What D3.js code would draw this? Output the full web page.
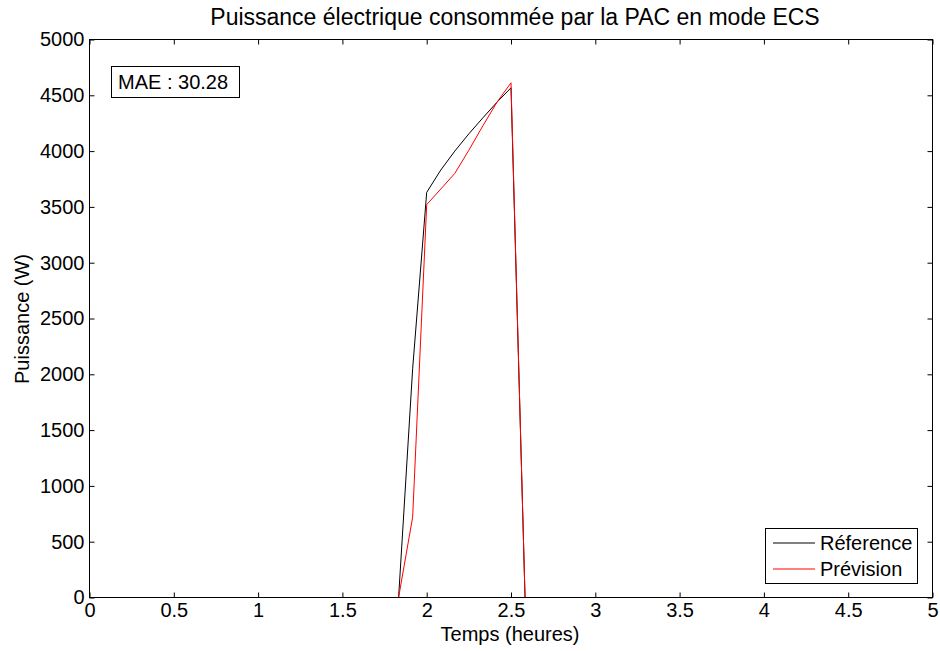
<!DOCTYPE html>
<html>
<head>
<meta charset="utf-8">
<script src="https://cdn.jsdelivr.net/npm/d3@7"></script>
<style>
body{margin:0;background:#fff;}
text{font-family:"Liberation Sans",Arial,sans-serif;fill:#000;}
</style>
</head>
<body>
<svg id="chart" width="940" height="651"></svg>
<script>
const timeHours = [0, 1.8333, 1.9167, 2.0, 2.0833, 2.1667, 2.25, 2.3333, 2.4167, 2.5, 2.5833, 5];
const reference = [0, 0, 2050, 3630, 3830, 4000, 4155, 4298, 4438, 4567, 0, 0];
const prevision = [0, 0, 720, 3520, 3660, 3800, 4008, 4227, 4438, 4612, 0, 0];
const xTicks = [0, 0.5, 1, 1.5, 2, 2.5, 3, 3.5, 4, 4.5, 5];
const yTicks = [0, 500, 1000, 1500, 2000, 2500, 3000, 3500, 4000, 4500, 5000];
const seriesNames = ["Réference", "Prévision"];
const seriesColors = ["#000000", "#ff0000"];
const maeText = "MAE : 30.28";

const svg = d3.select("#chart");
const L = 89.5, R = 932.5, T = 39.5, B = 597.5;
const x = d3.scaleLinear().domain([0, 5]).range([L, R]);
const y = d3.scaleLinear().domain([0, 5000]).range([B, T]);

svg.append("rect").attr("width", 940).attr("height", 651).attr("fill", "#fff");

const fs = 20;
const gx = svg.append("g").attr("transform", `translate(0,${B})`)
  .call(d3.axisBottom(x).tickValues(xTicks).tickFormat(d3.format("")).tickSizeInner(-5).tickSizeOuter(0).tickPadding(2));
const gxt = svg.append("g").attr("transform", `translate(0,${T})`)
  .call(d3.axisTop(x).tickValues(xTicks).tickFormat("").tickSizeInner(-5).tickSizeOuter(0));
const gy = svg.append("g").attr("transform", `translate(${L},0)`)
  .call(d3.axisLeft(y).tickValues(yTicks).tickFormat(d3.format("")).tickSizeInner(-5).tickSizeOuter(0).tickPadding(5));
const gyr = svg.append("g").attr("transform", `translate(${R},0)`)
  .call(d3.axisRight(y).tickValues(yTicks).tickFormat("").tickSizeInner(-5).tickSizeOuter(0));
[gx, gxt, gy, gyr].forEach(g => {
  g.select(".domain").remove();
  g.selectAll("line").attr("stroke", "#000");
  g.selectAll("text").style("font-size", fs + "px").style("font-family", "Liberation Sans, Arial, sans-serif").attr("fill", "#000");
});
gx.selectAll("text").attr("dy", "0.85em");

const line = d3.line().x(d => x(d[0])).y(d => y(d[1]));
[reference, prevision].forEach((vals, i) => {
  svg.append("path")
    .datum(timeHours.map((t, k) => [t, vals[k]]))
    .attr("d", line)
    .attr("fill", "none")
    .attr("stroke", seriesColors[i])
    .attr("stroke-width", 1);
});

svg.append("rect").attr("x", L).attr("y", T).attr("width", R - L).attr("height", B - T)
  .attr("fill", "none").attr("stroke", "#000").attr("stroke-width", 1);

svg.append("text").attr("x", 515).attr("y", 25).attr("text-anchor", "middle")
  .style("font-size", "23px").text("Puissance électrique consommée par la PAC en mode ECS");
svg.append("text").attr("x", 510).attr("y", 641).attr("text-anchor", "middle")
  .style("font-size", fs + "px").text("Temps (heures)");
svg.append("text").attr("transform", "translate(29,319) rotate(-90)").attr("text-anchor", "middle")
  .style("font-size", fs + "px").text("Puissance (W)");

// MAE box
svg.append("rect").attr("x", 111.5).attr("y", 66.5).attr("width", 128).attr("height", 31)
  .attr("fill", "#fff").attr("stroke", "#000");
svg.append("text").attr("x", 118).attr("y", 89).style("font-size", fs + "px").text(maeText);

// legend
const lg = svg.append("g");
lg.append("rect").attr("x", 765.5).attr("y", 528.5).attr("width", 152).attr("height", 55)
  .attr("fill", "#fff").attr("stroke", "#000");
seriesNames.forEach((n, i) => {
  const yy = 543 + i * 26;
  lg.append("line").attr("x1", 773).attr("x2", 815).attr("y1", yy).attr("y2", yy)
    .attr("stroke", seriesColors[i]).attr("stroke-width", 1);
  lg.append("text").attr("x", 820).attr("y", yy + 7).style("font-size", fs + "px").text(n);
});
</script>
</body>
</html>
